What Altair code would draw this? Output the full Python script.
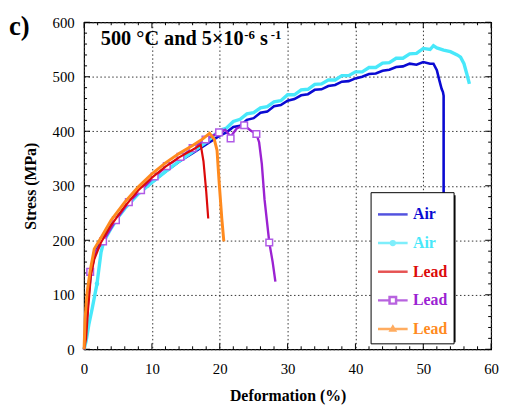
import altair as alt
import pandas as pd

# ---------------- data ----------------
air1_x = [0, 0.3, 0.6, 1.0, 1.5, 2, 3, 4, 5, 6, 8, 10, 12, 14, 16, 18, 20, 21, 22, 23, 24, 25, 26, 27, 28, 29,
          30, 31, 32, 33, 34, 35, 36, 37, 38, 39, 40, 41, 42, 43, 44, 45, 46, 47, 48, 49, 50, 51, 51.5, 52,
          52.4, 52.7, 52.9, 53.0, 53.0]
air1_y = [0, 40, 90, 140, 170, 188, 210, 228, 245, 260, 286, 306, 326, 344, 360, 376, 392, 398, 408, 410, 421,
          424, 434, 436, 446, 448, 456, 459, 466, 468, 476, 477, 483, 485, 491, 492, 497, 500, 505, 506, 511,
          513, 518, 519, 524, 522, 527, 524, 524, 512, 492, 478, 472, 465, 150]

air2_x = [0, 0.3, 0.7, 1.2, 1.9, 2.5, 2.9, 4, 5, 6, 8, 10, 12, 14, 16, 18, 20, 21, 22, 23, 24, 25, 26, 27, 28,
          29, 30, 31, 32, 33, 34, 35, 36, 37, 38, 39, 40, 41, 42, 43, 44, 45, 46, 47, 48, 49, 50, 51, 51.5,
          52, 53, 54, 55, 55.5, 56, 56.4, 56.8]
air2_y = [0, 15, 45, 75, 120, 178, 198, 222, 242, 258, 285, 306, 326, 345, 362, 380, 402, 406, 418, 422, 432,
          434, 443, 445, 454, 456, 467, 467, 476, 477, 486, 487, 494, 494, 502, 502, 509, 509, 517, 517, 525,
          526, 534, 534, 542, 543, 552, 550, 557, 553, 549, 546, 540, 536, 524, 506, 487]

lead1_x = [0, 0.3, 0.6, 1.0, 1.5, 2.5, 4, 6, 8, 10, 12, 14, 16, 17.2, 17.6, 18.0, 18.3]
lead1_y = [0, 20, 75, 135, 165, 196, 228, 262, 292, 315, 335, 352, 366, 375, 345, 290, 240]

lead2_x = [0, 0.3, 0.9, 1.5, 2.8, 4.7, 6.6, 8.4, 10.4, 12.2, 14.2, 16, 17.9, 19.9, 20.8, 21.6, 22.5, 23.6,
           24.5, 25.4, 25.8, 26.2, 26.6, 27.3, 27.8, 28.2]
lead2_y = [0, 60, 142, 175, 198, 237, 270, 292, 317, 336, 353, 369, 385, 398, 403, 390, 405, 411, 402, 395,
           380, 340, 275, 196, 160, 124]

lead2_mx = [0.9, 2.8, 4.7, 6.6, 8.4, 10.4, 12.2, 14.2, 16, 17.9, 19.9, 21.6, 23.6, 25.4, 27.3]
lead2_my = [142, 198, 237, 270, 292, 317, 336, 353, 369, 385, 398, 387, 411, 395, 196]

air2_mx = [1.9]
air2_my = [120]

lead3_x = [0, 0.15, 0.45, 0.9, 1.5, 2.6, 4, 6, 8, 10, 12, 14, 16, 17.5, 18.5, 19.2, 19.6, 19.9, 20.3, 20.6]
lead3_y = [0, 56, 105, 144, 184, 207, 237, 270, 298, 322, 342, 359, 374, 386, 396, 385, 365, 308, 240, 198]

series = ["Air1", "Air2", "Lead1", "Lead2", "Lead3"]
colors = ["#0a0ad2", "#48e8fa", "#dc0a0a", "#9b22d2", "#ff8a1e"]
legend_paths = [
    "M-1,0H1",
    "M-1,0H1M0.13,0A0.13,0.13 0 1 1 -0.13,0A0.13,0.13 0 1 1 0.13,0",
    "M-1,0H1",
    "M-1,0H-0.22M0.22,0H1M-0.22,-0.22H0.22V0.22H-0.22Z",
    "M-1,0H1M0,-0.16L0.15,0.1H-0.15Z",
]

x_ticks = [0, 10, 20, 30, 40, 50, 60]
y_ticks = [0, 100, 200, 300, 400, 500, 600]
x_minor = [v for v in range(0, 61, 2) if v % 10 != 0]
y_minor = [v for v in range(0, 601, 20) if v % 100 != 0]

FONT = "Liberation Serif"
W, H = 412, 331


def frame(xs, ys):
    return pd.DataFrame({"x": xs, "y": ys, "i": list(range(len(xs)))})


xsc = alt.Scale(domain=[0, 60], nice=False, zero=False)
ysc = alt.Scale(domain=[0, 600], nice=False, zero=False)

main_x_axis = alt.Axis(values=x_ticks, ticks=False, tickSize=0, domain=False, grid=True,
                       gridColor="#333", gridDash=[1.5, 2.5], gridWidth=1,
                       labelFont=FONT, labelFontSize=15, labelColor="black", labelPadding=13,
                       title="Deformation (%)", titleFont=FONT, titleFontSize=16, titleFontWeight="bold",
                       titleColor="black", titlePadding=11, format="d", labelFlush=False)
main_y_axis = alt.Axis(values=y_ticks, ticks=False, tickSize=0, domain=False, grid=True,
                       gridColor="#333", gridDash=[1.5, 2.5], gridWidth=1,
                       labelFont=FONT, labelFontSize=15, labelColor="black", labelPadding=10,
                       title="Stress (MPa)", titleFont=FONT, titleFontSize=16, titleFontWeight="bold",
                       titleColor="black", titlePadding=14, format="d", labelFlush=False)


def xticks(vals, y0, y1):
    return alt.Chart(pd.DataFrame({"v": vals})).mark_rule(color="black", strokeWidth=1).encode(
        x=alt.X("v:Q", scale=xsc, axis=None), y=alt.value(y0), y2=alt.value(y1))


def yticks(vals, x0, x1):
    return alt.Chart(pd.DataFrame({"v": vals})).mark_rule(color="black", strokeWidth=1).encode(
        y=alt.Y("v:Q", scale=ysc, axis=None), x=alt.value(x0), x2=alt.value(x1))


tick_layers = [
    xticks(x_minor, H, H - 3), xticks(x_ticks, H, H - 6),
    xticks(x_minor, 0, 3), xticks(x_ticks, 0, 6),
    yticks(y_minor, 0, 3), yticks(y_ticks, 0, 6),
    yticks(y_minor, W, W - 3), yticks(y_ticks, W, W - 6),
]


def line(xs, ys, color, width=2.2, xaxis=None, yaxis=None):
    return alt.Chart(frame(xs, ys)).mark_line(color=color, strokeWidth=width).encode(
        x=alt.X("x:Q", scale=xsc, axis=xaxis),
        y=alt.Y("y:Q", scale=ysc, axis=yaxis),
        order="i:Q",
    )


l_air1 = line(air1_x, air1_y, colors[0], 2.6, main_x_axis, main_y_axis)
l_air2 = line(air2_x, air2_y, colors[1], 3.4)
l_lead2 = line(lead2_x, lead2_y, colors[3], 2.4)
l_lead1 = line(lead1_x, lead1_y, colors[2], 2.2)
l_lead3 = line(lead3_x, lead3_y, colors[4], 3.0)

m_lead2 = alt.Chart(frame(lead2_mx, lead2_my)).mark_point(
    shape="square", filled=True, fill="white", stroke="#b05ae6", strokeWidth=1.5, size=45, opacity=1
).encode(x=alt.X("x:Q", scale=xsc, axis=None), y=alt.Y("y:Q", scale=ysc, axis=None))

m_air2 = alt.Chart(frame(air2_mx, air2_my)).mark_point(
    shape="circle", filled=True, color=colors[1], size=22, opacity=1
).encode(x=alt.X("x:Q", scale=xsc, axis=None), y=alt.Y("y:Q", scale=ysc, axis=None))

LX, LY = 290, 172
legend = alt.Legend(title=None, orient="none", legendX=LX, legendY=LY,
                    fillColor="white", strokeColor="black", padding=6, cornerRadius=0,
                    symbolSize=900, symbolStrokeWidth=2.5, symbolOffset=0, symbolFillColor="transparent",
                    labelFont=FONT, labelFontSize=16, labelFontWeight="bold", labelOffset=4,
                    labelExpr="slice(datum.label, 0, -1)",
                    labelColor={"expr": "scale('color', datum.value)"},
                    rowPadding=4)

leg_layer = alt.Chart(pd.DataFrame({"series": series})).transform_filter("false").mark_point(
    filled=False, strokeWidth=2.5
).encode(
    color=alt.Color("series:N", scale=alt.Scale(domain=series, range=colors), legend=legend),
    shape=alt.Shape("series:N", scale=alt.Scale(domain=series, range=legend_paths), legend=legend),
)

# drop shadow behind the legend box
shadow = alt.Chart(pd.DataFrame({"a": [0]})).mark_rect(color="black").encode(
    x=alt.value(LX + 3), x2=alt.value(LX + 86), y=alt.value(LY + 3), y2=alt.value(LY + 152))

panel_label = alt.Chart(pd.DataFrame({"t": ["c)"]})).mark_text(
    font=FONT, fontSize=27, fontWeight="bold", align="left", baseline="alphabetic", color="black"
).encode(text="t:N", x=alt.value(-76), y=alt.value(13))

title_main = alt.Chart(pd.DataFrame({"t": ["500 °C and 5×10"]})).mark_text(
    font=FONT, fontSize=20.5, fontWeight="bold", align="left", baseline="alphabetic", color="black"
).encode(text="t:N", x=alt.value(17), y=alt.value(23))
title_sup1 = alt.Chart(pd.DataFrame({"t": ["-6"]})).mark_text(
    font=FONT, fontSize=13, fontWeight="bold", align="left", baseline="alphabetic", color="black"
).encode(text="t:N", x=alt.value(162), y=alt.value(17))
title_s = alt.Chart(pd.DataFrame({"t": ["s"]})).mark_text(
    font=FONT, fontSize=20.5, fontWeight="bold", align="left", baseline="alphabetic", color="black"
).encode(text="t:N", x=alt.value(178), y=alt.value(23))
title_sup2 = alt.Chart(pd.DataFrame({"t": ["-1"]})).mark_text(
    font=FONT, fontSize=13, fontWeight="bold", align="left", baseline="alphabetic", color="black"
).encode(text="t:N", x=alt.value(189), y=alt.value(17))

chart = alt.layer(
    l_air1, *tick_layers, l_air2, l_lead2, m_lead2, l_lead1, l_lead3, m_air2, shadow,
    leg_layer, panel_label, title_main, title_sup1, title_s, title_sup2,
).resolve_axis(x="independent", y="independent").properties(
    width=W, height=H,
    autosize=alt.AutoSizeParams(type="none"),
    padding={"left": 77, "top": 12, "right": 10, "bottom": 56},
    background="white",
).configure_view(stroke="black", strokeWidth=1.2)

chart.save("out.html", embed_options={"renderer": "svg", "actions": False})
